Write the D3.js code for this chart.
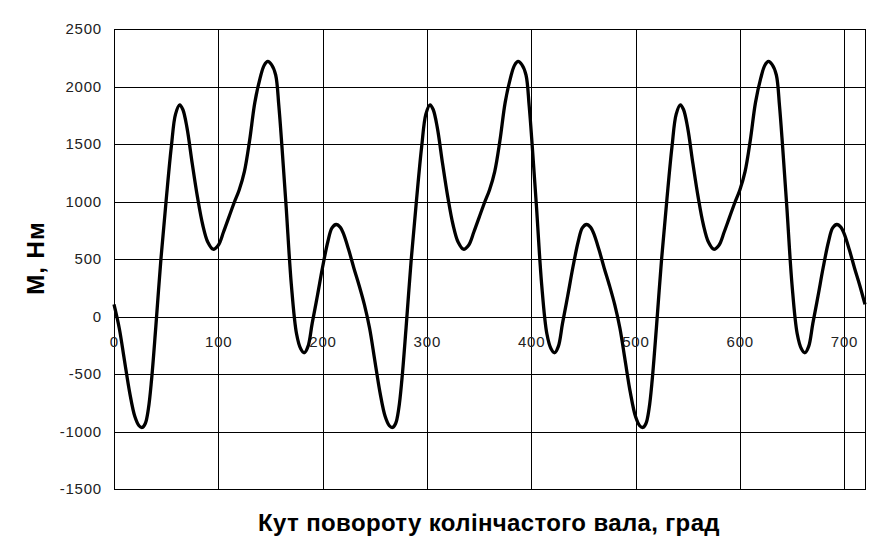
<!DOCTYPE html>
<html>
<head>
<meta charset="utf-8">
<script src="https://cdn.jsdelivr.net/npm/d3@7/dist/d3.min.js"></script>
<style>
  html, body { margin: 0; padding: 0; background: #fff; }
  svg { display: block; }
</style>
</head>
<body>
<svg id="chart" width="896" height="558"></svg>
<script>
// Crank angle, degrees
const angles = [
  0, 5, 10, 15, 20, 24, 27, 30, 33, 36, 40, 45, 50, 55, 59, 63, 66, 70, 75, 80,
  85, 90, 95, 100, 105, 110, 115, 120, 125, 130, 135, 140, 144, 147.5, 151, 155, 158, 161, 165, 170,
  175, 179, 182.5, 186, 190, 195, 200, 205, 209, 213, 217, 220, 225, 230, 235,
  240, 245, 250, 255, 260, 264, 267, 270, 273, 276, 280, 285, 290, 295, 299, 303, 306, 310, 315, 320,
  325, 330, 335, 340, 345, 350, 355, 360, 365, 370, 375, 380, 384, 387.5, 391, 395, 398, 401, 405, 410,
  415, 419, 422.5, 426, 430, 435, 440, 445, 449, 453, 457, 460, 465, 470, 475,
  480, 485, 490, 495, 500, 504, 507, 510, 513, 516, 520, 525, 530, 535, 539, 543, 546, 550, 555, 560,
  565, 570, 575, 580, 585, 590, 595, 600, 605, 610, 615, 620, 624, 627.5, 631, 635, 638, 641, 645, 650,
  655, 659, 662.5, 666, 670, 675, 680, 685, 689, 693, 697, 700, 705, 710, 715,
  720
];
// Torque M, N·m
const torque = [
  105, -100, -380, -660, -870, -950, -965, -930, -800, -550, -100, 500, 1010, 1480, 1760, 1840, 1800, 1640, 1330, 1040,
  800, 645, 585, 620, 735, 860, 985, 1100, 1260, 1530, 1860, 2070, 2185, 2218, 2190, 2100, 1835, 1480, 960, 280,
  -150, -280, -315, -260, -60, 180, 430, 650, 770, 800, 775, 720, 580, 420, 270,
  105, -100, -380, -660, -870, -950, -965, -930, -800, -550, -100, 500, 1010, 1480, 1760, 1840, 1800, 1640, 1330, 1040,
  800, 645, 585, 620, 735, 860, 985, 1100, 1260, 1530, 1860, 2070, 2185, 2218, 2190, 2100, 1835, 1480, 960, 280,
  -150, -280, -315, -260, -60, 180, 430, 650, 770, 800, 775, 720, 580, 420, 270,
  105, -100, -380, -660, -870, -950, -965, -930, -800, -550, -100, 500, 1010, 1480, 1760, 1840, 1800, 1640, 1330, 1040,
  800, 645, 585, 620, 735, 860, 985, 1100, 1260, 1530, 1860, 2070, 2185, 2218, 2190, 2100, 1835, 1480, 960, 280,
  -150, -280, -315, -260, -60, 180, 430, 650, 770, 800, 775, 720, 580, 420, 270,
  105
];
const xTicks = [0, 100, 200, 300, 400, 500, 600, 700];
const yTicks = [-1500, -1000, -500, 0, 500, 1000, 1500, 2000, 2500];
const xTitle = "Кут повороту колінчастого вала, град";
const yTitle = "М, Нм";

const data = angles.map((a, i) => ({ a, m: torque[i] }));

const svg = d3.select("#chart");
const L = 114, R = 865, T = 29, B = 489;
const x = d3.scaleLinear().domain([0, 720]).range([L, R]);
const y = d3.scaleLinear().domain([-1500, 2500]).range([B, T]);

const font = "'Liberation Sans', Arial, sans-serif";

// grid
const g = svg.append("g");
g.selectAll(".hg").data(yTicks).join("line")
  .attr("x1", L).attr("x2", R)
  .attr("y1", d => Math.round(y(d)) + 0.5).attr("y2", d => Math.round(y(d)) + 0.5)
  .attr("stroke", "#000").attr("stroke-width", 1);
g.selectAll(".vg").data(xTicks).join("line")
  .attr("y1", T).attr("y2", B)
  .attr("x1", d => Math.round(x(d)) + 0.5).attr("x2", d => Math.round(x(d)) + 0.5)
  .attr("stroke", "#000").attr("stroke-width", 1);
svg.append("rect")
  .attr("x", L + 0.5).attr("y", T + 0.5)
  .attr("width", R - L).attr("height", B - T)
  .attr("fill", "none").attr("stroke", "#000").attr("stroke-width", 1);

// y tick labels
svg.append("g").selectAll("text").data(yTicks).join("text")
  .attr("x", 102).attr("y", d => y(d))
  .attr("dy", "0.35em")
  .attr("text-anchor", "end")
  .attr("font-family", font).attr("font-size", 15)
  .attr("letter-spacing", 0.8)
  .attr("fill", "#222")
  .text(d => d);

// x tick labels at the zero line
svg.append("g").selectAll("text").data(xTicks).join("text")
  .attr("x", d => x(d) + 0.4).attr("y", y(0) + 25)
  .attr("dy", "0.35em")
  .attr("text-anchor", "middle")
  .attr("font-family", font).attr("font-size", 15)
  .attr("letter-spacing", 0.8)
  .attr("fill", "#222")
  .text(d => d);

// curve
const line = d3.line()
  .x(d => x(d.a)).y(d => y(d.m))
  .curve(d3.curveCatmullRom.alpha(0.5));
svg.append("path")
  .datum(data)
  .attr("d", line)
  .attr("fill", "none")
  .attr("stroke", "#000")
  .attr("stroke-width", 3.3)
  .attr("stroke-linejoin", "round");

// titles
svg.append("text")
  .attr("x", 489).attr("y", 531)
  .attr("text-anchor", "middle")
  .attr("font-family", font).attr("font-size", 24).attr("font-weight", "bold")
  .attr("letter-spacing", 0.36)
  .attr("fill", "#000")
  .text(xTitle);
svg.append("text")
  .attr("transform", "translate(44,258) rotate(-90)")
  .attr("text-anchor", "middle")
  .attr("font-family", font).attr("font-size", 24).attr("font-weight", "bold")
  .attr("letter-spacing", 1)
  .attr("fill", "#000")
  .text(yTitle);
</script>
</body>
</html>
